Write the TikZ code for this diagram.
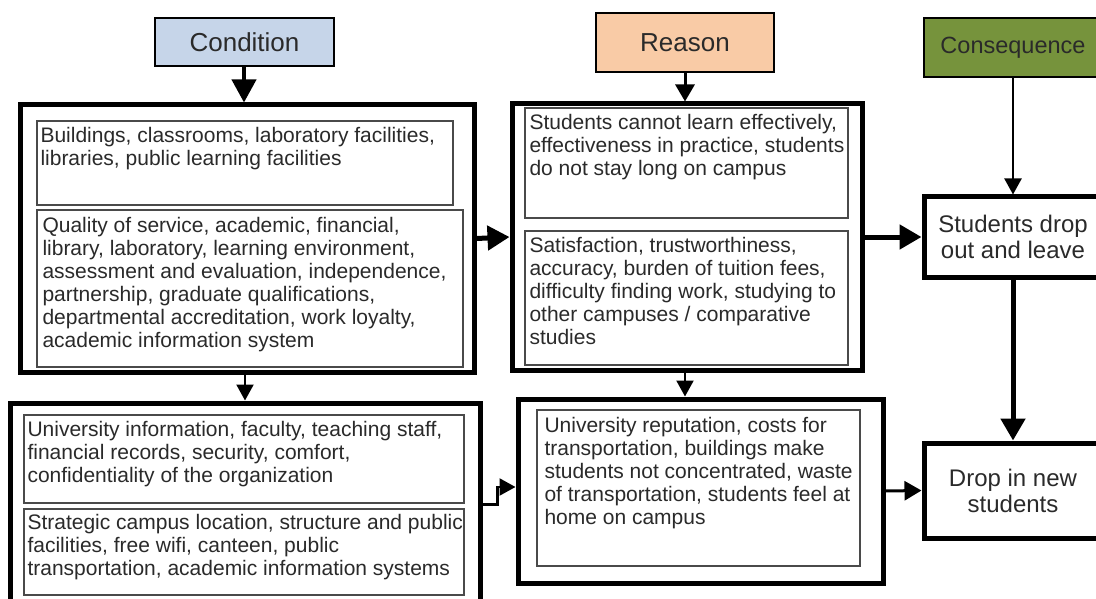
\documentclass[tikz,border=0pt]{standalone}
\usepackage{fontspec}
\setmainfont{Liberation Sans}
\usetikzlibrary{arrows.meta,fit,calc}
\definecolor{condfill}{HTML}{C6D5E9}
\definecolor{reasfill}{HTML}{F9CBA6}
\definecolor{consfill}{HTML}{76933C}
\definecolor{txtgray}{HTML}{2A2A2A}
\definecolor{ingray}{HTML}{4A4A4A}
\newcommand\mkbox[6]{%
  \coordinate (#1-a) at (#2,#3);
  \coordinate (#1-b) at (#4,#5);
  \node[fit=(#1-a)(#1-b), inner sep=0pt, #6] (#1) {};}
\tikzset{
  hdr/.style={draw=black, line width=2.2pt},
  bigbox/.style={draw=black, line width=5pt, fill=white},
  inbox/.style={draw=ingray, line width=1.4pt},
  lbl/.style={inner sep=0pt, text=txtgray, align=center},
  txt/.style={anchor=north west, align=left, inner sep=0pt, text=txtgray,
              font=\fontsize{21}{23}\selectfont},
  big/.style={lbl, font=\fontsize{24}{26}\selectfont},
  thickarr/.style={line width=5pt, -{Triangle[length=22pt,width=24pt]}},
  medarr/.style={line width=3pt, -{Triangle[length=17pt,width=19pt]}},
  thinarr/.style={line width=2.2pt, -{Triangle[length=16pt,width=17pt]}},
}
\begin{document}
\begin{tikzpicture}[x=1pt,y=-1pt]
\useasboundingbox (0,0) rectangle (1096,599);
\clip (0,0) rectangle (1096,599);
% headers
\mkbox{cond}{155}{18}{334}{66}{hdr, fill=condfill}
\mkbox{reas}{596}{13}{774}{72}{hdr, fill=reasfill}
\mkbox{cons}{924}{18}{1102}{77}{hdr, fill=consfill}
\node[lbl, font=\fontsize{26}{28}\selectfont] (cond-t) at (cond.center) {Condition};
\node[lbl, font=\fontsize{26}{28}\selectfont] (reas-t) at (reas.center) {Reason};
\node[lbl, font=\fontsize{23.5}{26}\selectfont] (cons-t) at (cons.center) {Consequence};
% big boxes
\mkbox{b1}{20}{105}{474}{372}{bigbox}
\mkbox{b2}{512}{104}{862}{370}{bigbox}
\mkbox{b3}{10}{403}{480}{612}{bigbox}
\mkbox{b4}{518}{399}{883}{583}{bigbox}
\mkbox{sd}{924}{197}{1102}{277}{bigbox}
\mkbox{di}{924}{443}{1102}{538}{bigbox}
\node[big] (sd-t) at (sd.center) {Students drop\\out and leave};
\node[big] (di-t) at (di.center) {Drop in new\\students};
% inner boxes
\mkbox{c1}{37}{121}{453}{205}{inbox}
\mkbox{c2}{37}{210}{463}{367}{inbox}
\mkbox{r1}{525}{108}{848}{218}{inbox}
\mkbox{r2}{525}{231}{848}{365}{inbox}
\mkbox{s1}{24}{415}{464}{503}{inbox}
\mkbox{s2}{24}{509}{464}{595}{inbox}
\mkbox{u1}{537}{410}{860}{566}{inbox}
% texts
\node[txt] (c1t) at ($(c1.north west)+(4,7)$) {Buildings, classrooms, laboratory facilities,\\libraries, public learning facilities};
\node[txt] (c2t) at ($(c2.north west)+(6,8)$) {Quality of service, academic, financial,\\library, laboratory, learning environment,\\assessment and evaluation, independence,\\partnership, graduate qualifications,\\departmental accreditation, work loyalty,\\academic information system};
\node[txt] (r1t) at ($(r1.north west)+(5,7)$) {Students cannot learn effectively,\\effectiveness in practice, students\\do not stay long on campus};
\node[txt] (r2t) at ($(r2.north west)+(5,7)$) {Satisfaction, trustworthiness,\\accuracy, burden of tuition fees,\\difficulty finding work, studying to\\other campuses / comparative\\studies};
\node[txt] (s1t) at ($(s1.north west)+(4,7)$) {University information, faculty, teaching staff,\\financial records, security, comfort,\\confidentiality of the organization};
\node[txt] (s2t) at ($(s2.north west)+(4,6)$) {Strategic campus location, structure and public\\facilities, free wifi, canteen, public\\transportation, academic information systems};
\node[txt] (u1t) at ($(u1.north west)+(8,8)$) {University reputation, costs for\\transportation, buildings make\\students not concentrated, waste\\of transportation, students feel at\\home on campus};
% connectors
\draw[line width=4pt, -{Triangle[length=23pt,width=24pt]}] (cond.south -| 244,0) -- (b1.north -| 244,0);
\draw[medarr] (reas.south) -- (reas.south |- b2.north);
\draw[thinarr] (cons.south) -- (sd.north);
\draw[thickarr] (b1.east) -- (b2.west);
\draw[thickarr] (b2.east) -- (sd.west);
\draw[thickarr] (sd.south) -- (di.north);
\draw[thinarr] (b1.south -| 245,0) -- (b3.north -| 245,0);
\draw[thinarr] (b2.south -| 685,0) -- (b4.north -| 685,0);
\draw[thinarr] ([yshift=3pt]b3.east) -- ++(15,0) |- ([yshift=4pt]b4.west);
\draw[medarr] (b4.east) -- (di.west);
\end{tikzpicture}
\end{document}
